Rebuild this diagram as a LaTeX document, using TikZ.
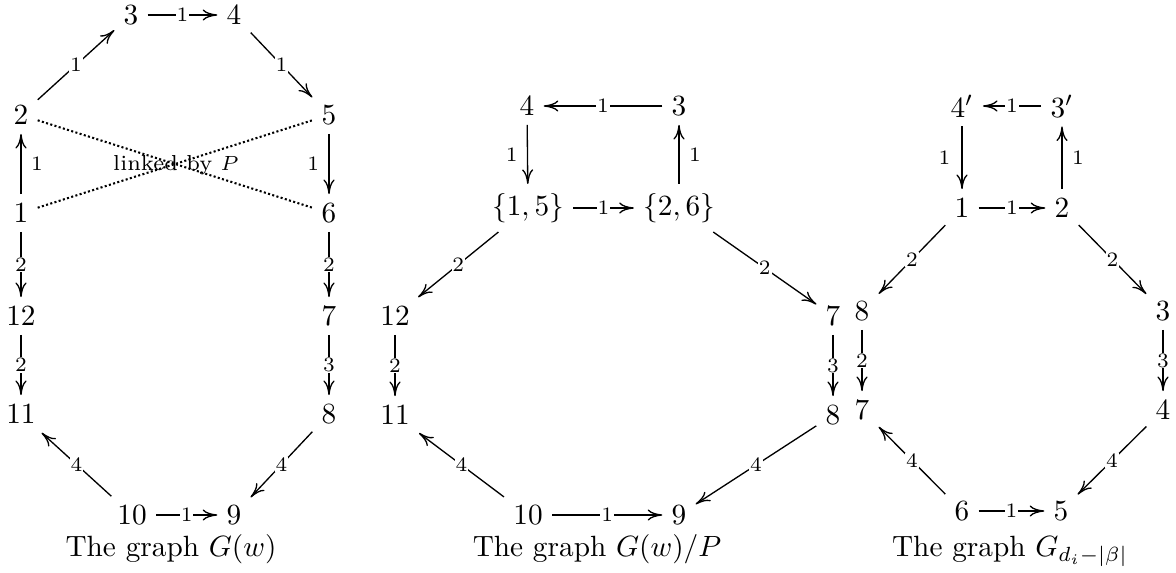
\documentclass[tikz,border=0pt]{standalone}
\usetikzlibrary{arrows.meta}
\begin{document}
\begin{tikzpicture}[x=0.3413pt, y=-0.3413pt,
  >={Computer Modern Rightarrow[length=5pt,width=3.8pt]},
  v/.style={inner sep=3pt},
  e/.style={->, line width=0.45pt},
  lab/.style={fill=white, inner sep=0.3pt, font=\scriptsize},
  sidel/.style={font=\scriptsize, inner sep=3.2pt},
  linkline/.style={line width=0.7pt, dash pattern=on 0.7pt off 0.8pt},
  captext/.style={anchor=base, inner sep=0pt}]
\useasboundingbox (0,0) rectangle (1176,572);

% ---------- left graph G(w) ----------
\node[v] (L3) at (131,15) {$3$};
\node[v] (L4) at (234,15) {$4$};
\node[v] (L2) at (21,115) {$2$};
\node[v] (L5) at (329,115) {$5$};
\node[v] (L1) at (21,213) {$1$};
\node[v] (L6) at (329,213) {$6$};
\node[v] (L12) at (21,316) {$12$};
\node[v] (L7) at (329,316) {$7$};
\node[v] (L11) at (21,414) {$11$};
\node[v] (L8) at (329,414) {$8$};
\node[v] (L10) at (132,515) {$10$};
\node[v] (L9) at (234,515) {$9$};
\node[captext] (capL) at (171,556) {The graph $G(w)$};

\draw[e] (L2) -- node[lab]{1} (L3);
\draw[e] (L3) -- node[lab]{1} (L4);
\draw[e] (L4) -- node[lab]{1} (L5);
\draw[e] (L1) -- node[sidel, right]{1} (L2);
\draw[e] (L5) -- node[sidel, left]{1} (L6);
\draw[e] (L1) -- node[lab]{2} (L12);
\draw[e] (L12) -- node[lab]{2} (L11);
\draw[e] (L6) -- node[lab]{2} (L7);
\draw[e] (L7) -- node[lab]{3} (L8);
\draw[e] (L8) -- node[lab]{4} (L9);
\draw[e] (L10) -- node[lab]{4} (L11);
\draw[e] (L10) -- node[lab]{1} (L9);
\draw[linkline] (L2) -- (L6);
\draw[linkline] (L1) -- (L5);
\node[font=\fontsize{7.4pt}{9pt}\selectfont, inner sep=0pt] (link) at (176,165) {linked by $P$};

% ---------- middle graph G(w)/P ----------
\node[v] (M4) at (527,106) {$4$};
\node[v] (M3) at (679,106) {$3$};
\node[v] (M15) at (528,208) {$\{1,5\}$};
\node[v] (M26) at (679,208) {$\{2,6\}$};
\node[v] (M12) at (395,316) {$12$};
\node[v] (M7) at (833,316) {$7$};
\node[v] (M11) at (395,415) {$11$};
\node[v] (M8) at (833,415) {$8$};
\node[v] (M10) at (528,515) {$10$};
\node[v] (M9) at (679,515) {$9$};
\node[captext] (capM) at (597,556) {The graph $G(w)/P$};

\draw[e] (M3) -- node[lab]{1} (M4);
\draw[e] (M4) -- node[sidel, left]{1} (M15);
\draw[e] (M26) -- node[sidel, right]{1} (M3);
\draw[e] (M15) -- node[lab]{1} (M26);
\draw[e] (M15) -- node[lab]{2} (M12);
\draw[e] (M26) -- node[lab]{2} (M7);
\draw[e] (M12) -- node[lab]{2} (M11);
\draw[e] (M7) -- node[lab]{3} (M8);
\draw[e] (M8) -- node[lab]{4} (M9);
\draw[e] (M10) -- node[lab]{4} (M11);
\draw[e] (M10) -- node[lab]{1} (M9);

% ---------- right graph ----------
\node[v] (R4p) at (962,106) {$4'$};
\node[v] (R3p) at (1062,106) {$3'$};
\node[v] (R1) at (962,208) {$1$};
\node[v] (R2) at (1062,208) {$2$};
\node[v] (R8) at (862,311) {$8$};
\node[v] (R3) at (1163,311) {$3$};
\node[v] (R7) at (862,410) {$7$};
\node[v] (R4) at (1163,410) {$4$};
\node[v] (R6) at (962,511) {$6$};
\node[v] (R5) at (1061,511) {$5$};
\node[captext] (capR) at (1010,556) {The graph $G_{d_i-|\beta|}$};

\draw[e] (R3p) -- node[lab]{1} (R4p);
\draw[e] (R4p) -- node[sidel, inner sep=3.8pt, left]{1} (R1);
\draw[e] (R2) -- node[sidel, right]{1} (R3p);
\draw[e] (R1) -- node[lab]{1} (R2);
\draw[e] (R1) -- node[lab]{2} (R8);
\draw[e] (R2) -- node[lab]{2} (R3);
\draw[e] (R8) -- node[lab]{2} (R7);
\draw[e] (R3) -- node[lab]{3} (R4);
\draw[e] (R4) -- node[lab]{4} (R5);
\draw[e] (R6) -- node[lab]{4} (R7);
\draw[e] (R6) -- node[lab]{1} (R5);
\end{tikzpicture}
\end{document}
